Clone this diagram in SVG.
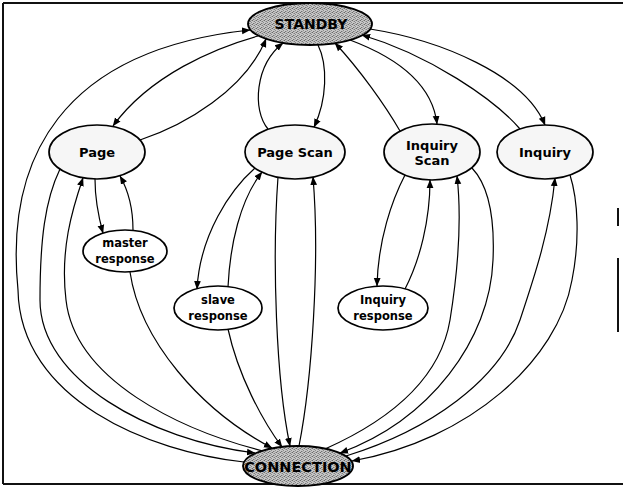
<svg xmlns="http://www.w3.org/2000/svg" width="623" height="490" viewBox="0 0 623 490">
<defs>
<pattern id="dither" width="4" height="4" patternUnits="userSpaceOnUse">
<rect width="4" height="4" fill="#c6c6c6"/>
<rect x="0" y="0" width="1" height="1" fill="#6a6a6a"/>
<rect x="2" y="1" width="1" height="1" fill="#7e7e7e"/>
<rect x="1" y="3" width="1" height="1" fill="#747474"/>
<rect x="3" y="2" width="1" height="1" fill="#8a8a8a"/>
<rect x="1" y="1" width="1" height="1" fill="#a8a8a8"/>
<rect x="3" y="0" width="1" height="1" fill="#a0a0a0"/>
<rect x="2" y="3" width="1" height="1" fill="#a4a4a4"/>
</pattern>
<marker id="a" viewBox="0 0 10 10" refX="9.5" refY="5" markerWidth="8.5" markerHeight="8.5" markerUnits="userSpaceOnUse" orient="auto">
<path d="M0,1 L10,5 L0,9 z" fill="#000"/>
</marker>
<style>
.frame{stroke:#111;stroke-width:2;fill:none}
.n ellipse{stroke:#000;stroke-width:1.7;fill:#fff}
.n ellipse.g{fill:url(#dither);stroke-width:1.9}
.n ellipse.s{fill:#f6f6f6}
.n text{font-family:"DejaVu Sans","Liberation Sans",sans-serif;font-weight:bold;fill:#000;text-anchor:middle}
.big{font-size:13px}
.sm{font-size:11.5px}
#edges path{fill:none;stroke:#000;stroke-width:1.2;marker-end:url(#a)}
</style>
</defs>
<rect width="623" height="490" fill="#fff"/>
<g id="frame" class="frame">
<path d="M3,3 H623"/>
<path d="M3,3 V484"/>
<path d="M3,484 H623"/>
<path d="M618,208 V226 M618,258 V332"/>
</g>
<g id="edges">
<path id="e-conn-standby" d="M244,462 C150,452 20,400 18,290 C5,160 60,50 250,30"/>
<path id="e-standby-page" d="M258,36 C215,48 150,75 113,126"/>
<path id="e-page-standby" d="M140,140 C185,125 245,90 266,39"/>
<path id="e-pagescan-standby" d="M268,129 C252,110 255,65 283,43"/>
<path id="e-standby-pagescan" d="M318,45 C328,65 327,100 314,127"/>
<path id="e-inqscan-standby" d="M400,131 C385,105 360,70 335,43"/>
<path id="e-standby-inqscan" d="M350,40 C390,55 432,80 437,124"/>
<path id="e-inquiry-standby" d="M520,129 C495,100 430,55 362,35"/>
<path id="e-standby-inquiry" d="M370,29 C440,40 525,75 545,125"/>
<path id="e-page-conn" d="M60,169 C45,200 40,240 40,300 C40,380 150,440 255,453"/>
<path id="e-conn-page" d="M263,451 C180,430 75,380 66,300 C60,250 72,210 83,178"/>
<path id="e-page-master" d="M95,179 C95,195 98,215 103,233"/>
<path id="e-master-page" d="M133,230 C133,210 128,190 120,176"/>
<path id="e-master-conn" d="M130,272 C140,340 200,410 272,448"/>
<path id="e-pagescan-slave" d="M255,168 C230,190 200,235 197,289"/>
<path id="e-slave-pagescan" d="M228,287 C230,245 240,200 262,172"/>
<path id="e-pagescan-conn" d="M278,177 C272,260 276,380 290,446"/>
<path id="e-conn-pagescan" d="M299,446 C312,380 320,260 313,177"/>
<path id="e-slave-conn" d="M228,329 C238,375 262,420 282,447"/>
<path id="e-inqscan-inqresp" d="M405,175 C392,200 378,240 377,286"/>
<path id="e-inqresp-inqscan" d="M405,289 C420,260 430,220 430,180"/>
<path id="e-conn-inqscan" d="M325,449 C390,420 440,380 450,320 C458,270 462,220 457,176"/>
<path id="e-inqscan-conn" d="M472,168 C488,185 495,215 493,260 C490,340 430,420 340,453"/>
<path id="e-conn-inquiry" d="M346,456 C430,430 500,380 520,320 C535,275 550,230 555,178"/>
<path id="e-inquiry-conn" d="M570,175 C578,200 580,240 572,280 C558,360 470,440 352,461"/>
</g>
<g id="standby" class="n"><ellipse class="g" cx="310" cy="24" rx="62" ry="21"/><text x="311" y="29" font-size="14">STANDBY</text></g>
<g id="connection" class="n"><ellipse class="g" cx="298" cy="466" rx="55" ry="20"/><text x="298" y="472" font-size="14.5">CONNECTION</text></g>
<g id="page" class="n"><ellipse class="s" cx="97" cy="152" rx="48" ry="27"/><text class="big" x="97" y="157">Page</text></g>
<g id="pagescan" class="n"><ellipse class="s" cx="295" cy="152" rx="50" ry="27"/><text class="big" x="295" y="157">Page Scan</text></g>
<g id="inquiryscan" class="n"><ellipse class="s" cx="432" cy="152" rx="48" ry="28"/><text class="big" x="432" y="150">Inquiry</text><text class="big" x="432" y="165">Scan</text></g>
<g id="inquiry" class="n"><ellipse class="s" cx="545" cy="152" rx="48" ry="27"/><text class="big" x="545" y="157">Inquiry</text></g>
<g id="master" class="n"><ellipse cx="125" cy="251" rx="42" ry="21"/><text class="sm" x="125" y="247">master</text><text class="sm" x="125" y="263">response</text></g>
<g id="slave" class="n"><ellipse cx="218" cy="308" rx="44" ry="22"/><text class="sm" x="218" y="304">slave</text><text class="sm" x="218" y="320">response</text></g>
<g id="inqresp" class="n"><ellipse cx="383" cy="308" rx="45" ry="22"/><text class="sm" x="383" y="304">Inquiry</text><text class="sm" x="383" y="320">response</text></g>
</svg>
